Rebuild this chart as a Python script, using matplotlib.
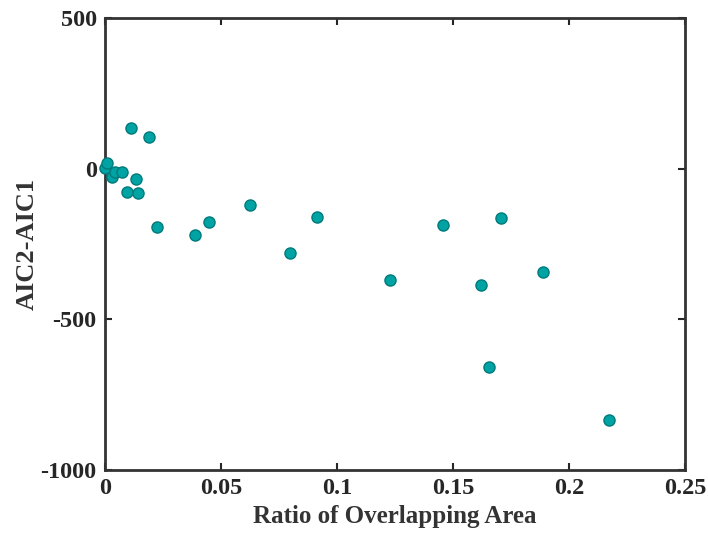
import matplotlib.pyplot as plt

# Data
ratio = [0.0000, 0.0010, 0.0031, 0.0043, 0.0072, 0.0096, 0.0111, 0.0135,
         0.0141, 0.0188, 0.0226, 0.0387, 0.0447, 0.0625, 0.0797, 0.0914,
         0.1228, 0.1456, 0.1621, 0.1657, 0.1707, 0.1887, 0.2171]
aic_diff = [2, 18, -29, -11, -11, -76, 136, -35,
            -82, 104, -195, -220, -178, -122, -280, -161,
            -370, -186, -387, -658, -163, -342, -834]

x_ticks = [0, 0.05, 0.1, 0.15, 0.2, 0.25]
x_tick_labels = ['0', '0.05', '0.1', '0.15', '0.2', '0.25']
y_ticks = [-1000, -500, 0, 500]

plt.rcParams['font.family'] = ['Liberation Serif', 'DejaVu Serif']
plt.rcParams['font.weight'] = 'bold'
plt.rcParams['axes.unicode_minus'] = False

fig = plt.figure(figsize=(7.08, 5.38), dpi=100)
ax = fig.add_axes([105 / 708, 1 - 470 / 538, 580 / 708, 452 / 538])

ax.plot(ratio, aic_diff, 'o', markersize=8, markerfacecolor='#00a3a3',
        markeredgecolor='#007a7a', markeredgewidth=1.0, linestyle='none',
        clip_on=False, zorder=3)

ax.set_xlim(0, 0.25)
ax.set_ylim(-1000, 500)
ax.set_xticks(x_ticks)
ax.set_xticklabels(x_tick_labels)
ax.set_yticks(y_ticks)

ax.tick_params(direction='in', length=5, width=1.5, top=True, right=True,
               labelsize=17.5, colors='#262626', pad=6)
for lbl in ax.get_xticklabels() + ax.get_yticklabels():
    lbl.set_fontweight('bold')
for sp in ax.spines.values():
    sp.set_linewidth(2)
    sp.set_color('#333333')

ax.set_xlabel('Ratio of Overlapping Area', fontsize=18, fontweight='bold',
              color='#333333', labelpad=4)
ax.set_ylabel('AIC2-AIC1', fontsize=19, fontweight='bold',
              color='#333333', labelpad=1)

fig.savefig('out.png', dpi=100)
